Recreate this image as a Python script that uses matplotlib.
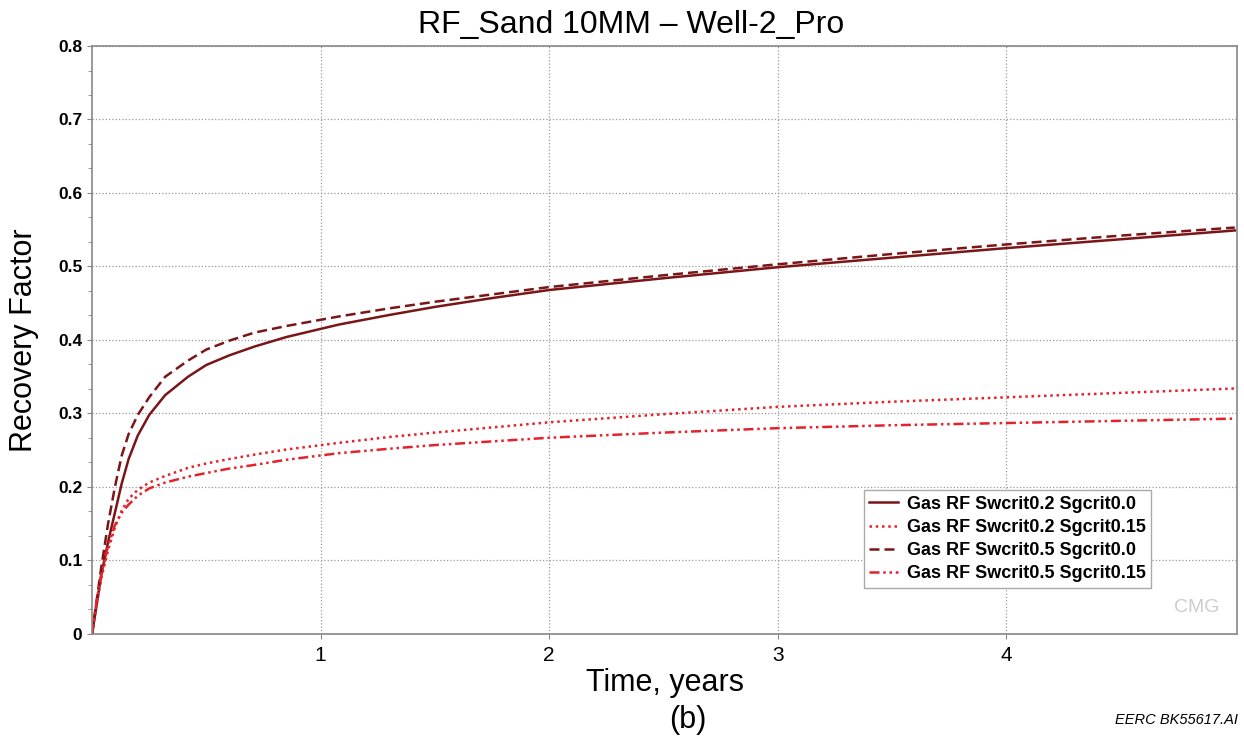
import numpy as np
import matplotlib
matplotlib.use("Agg")
import matplotlib.pyplot as plt
from matplotlib.ticker import AutoMinorLocator

plt.rcParams["font.family"] = ["Liberation Sans", "DejaVu Sans"]

# time, years
t = [0, 0.02, 0.04, 0.07, 0.1, 0.13, 0.16, 0.2, 0.25, 0.32, 0.42, 0.5, 0.6,
     0.71, 0.85, 1.08, 1.3, 1.5, 1.75, 2, 2.5, 3, 3.5, 4, 4.5, 5]

# recovery factor series
rf_sw02_sg00 = [0, 0.04, 0.08, 0.125, 0.165, 0.205, 0.238, 0.27, 0.298, 0.325, 0.35,
                0.366, 0.379, 0.391, 0.404, 0.421, 0.434, 0.445, 0.457, 0.468,
                0.484, 0.499, 0.512, 0.525, 0.537, 0.549]
rf_sw02_sg15 = [0, 0.04, 0.075, 0.114, 0.145, 0.168, 0.184, 0.196, 0.206, 0.215, 0.226,
                0.232, 0.238, 0.244, 0.251, 0.26, 0.268, 0.274, 0.281, 0.288,
                0.299, 0.309, 0.316, 0.322, 0.328, 0.334]
rf_sw05_sg00 = [0, 0.045, 0.09, 0.15, 0.20, 0.243, 0.272, 0.298, 0.322, 0.35, 0.372,
                0.387, 0.399, 0.41, 0.419, 0.432, 0.443, 0.452, 0.462, 0.472,
                0.488, 0.503, 0.517, 0.53, 0.542, 0.553]
rf_sw05_sg15 = [0, 0.045, 0.08, 0.12, 0.148, 0.165, 0.176, 0.188, 0.198, 0.206, 0.214,
                0.219, 0.225, 0.23, 0.237, 0.246, 0.252, 0.257, 0.262, 0.267,
                0.274, 0.28, 0.284, 0.287, 0.29, 0.293]

labels = ["Gas RF Swcrit0.2 Sgcrit0.0", "Gas RF Swcrit0.2 Sgcrit0.15",
          "Gas RF Swcrit0.5 Sgcrit0.0", "Gas RF Swcrit0.5 Sgcrit0.15"]

dark = "#7a1518"
red = "#e3222c"

fig = plt.figure(figsize=(12.44, 7.42), dpi=100)
ax = fig.add_axes([0.074, 0.1456, 0.9204, 0.7924])

l1, = ax.plot(t, rf_sw02_sg00, color=dark, lw=1.8, ls="-")
l2, = ax.plot(t, rf_sw02_sg15, color=red, lw=1.8, ls=(0, (1, 1.5)))
l3, = ax.plot(t, rf_sw05_sg00, color=dark, lw=1.8, ls=(0, (4, 2)))
l4, = ax.plot(t, rf_sw05_sg15, color=red, lw=1.8, ls=(0, (4, 1.5, 1, 1.5, 1, 1.5)))

ax.set_xlim(0, 5.01)
ax.set_ylim(0, 0.8)
ax.set_xticks([1, 2, 3, 4])
ax.set_xticklabels(["1", "2", "3", "4"], fontsize=15)
ax.set_yticks(np.arange(0, 0.81, 0.1))
ax.set_yticklabels(["0", "0.1", "0.2", "0.3", "0.4", "0.5", "0.6", "0.7", "0.8"],
                   fontsize=12.5, fontweight="bold")
ax.yaxis.set_minor_locator(AutoMinorLocator(3))
ax.tick_params(axis="both", colors="#888888", labelcolor="black")
ax.tick_params(axis="x", pad=5)
ax.tick_params(axis="y", which="minor", length=3, color="#888888")
ax.grid(True, color="#999999", ls=":", lw=0.9)
for s in ax.spines.values():
    s.set_color("#888888")
    s.set_linewidth(1.2)

ax.set_xlabel("Time, years", fontsize=22, labelpad=2)
ax.set_ylabel("Recovery Factor", fontsize=22, labelpad=14)
fig.text(0.507, 0.966, "RF_Sand 10MM \u2013 Well-2_Pro", fontsize=23,
         ha="center", va="center")

leg = ax.legend([l1, l2, l3, l4], labels, loc="upper left",
                bbox_to_anchor=(0.666, 0.26), prop={"weight": "bold", "size": 13},
                fancybox=False, framealpha=1, edgecolor="#aaaaaa",
                handlelength=1.6, borderpad=0.3, labelspacing=0.35, handletextpad=0.5)

ax.text(0.985, 0.03, "CMG", transform=ax.transAxes, ha="right", va="bottom",
        fontsize=14, color="#cccccc")

fig.text(0.553, 0.029, "(b)", fontsize=22, ha="center", va="center")
fig.text(0.995, 0.029, "EERC BK55617.AI", fontsize=10.5, style="italic",
         ha="right", va="center")

fig.savefig("out.png", dpi=100)
